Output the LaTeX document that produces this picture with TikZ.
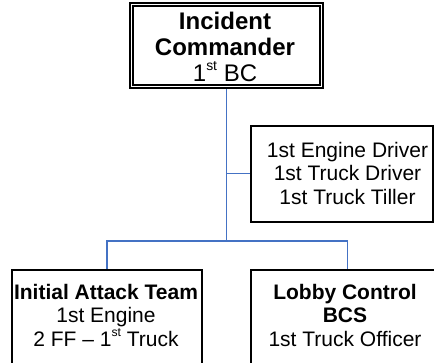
\documentclass[tikz,border=0pt]{standalone}
\usepackage{fontspec}
\setmainfont{Liberation Sans}
\definecolor{connblue}{RGB}{68,114,196}
\newcommand{\supst}[1]{\raisebox{0.45em}{\fontsize{0.58em}{0.6em}\selectfont #1}}
\tikzset{
  x=1pt, y=-1pt,
  box/.style={draw=black, line width=1.6pt, inner sep=0pt, align=center,
    font=\fontsize{21}{23}\selectfont, fill=white},
  boxtext/.style={inner sep=0pt, align=center, font=\fontsize{21}{23.5}\selectfont},
  conn/.style={draw=connblue, line width=1.5pt}
}
\begin{document}
\begin{tikzpicture}
\useasboundingbox (0,0) rectangle (434,362);
\clip (0,0) rectangle (434,362);
% top box
\node[box, line width=2pt, minimum width=193pt, minimum height=85pt] (ic) at (226.5,45.5) {};
\draw[line width=1.2pt] ([shift={(4,4)}]ic.north west) rectangle ([shift={(-4,-4)}]ic.south east);
\node[boxtext, font=\fontsize{24}{26}\selectfont] (ict) at (225,47)
  {\textbf{Incident}\\\textbf{Commander}\\1\supst{st} BC};
% side box
\node[box, minimum width=182pt, minimum height=96pt] (eng) at (342,173.7) {};
\node[boxtext] (engt) at (347.5,173)
  {1st Engine Driver\\1st Truck Driver\\1st Truck Tiller};
% bottom boxes
\node[box, minimum width=190pt, minimum height=96pt] (iat) at (107,318) {};
\node[boxtext] (iatt) at (106,315)
  {\textbf{Initial Attack Team}\\1st Engine\\2 FF -- 1\supst{st} Truck};
\node[box, minimum width=193pt, minimum height=96pt] (lc) at (347.5,318) {};
\node[boxtext] (lct) at (345,315)
  {\textbf{Lobby Control}\\\textbf{BCS}\\1st Truck Officer};
% connectors
\coordinate (j) at (ic.south |- 0,241);
\coordinate (k) at (ic.south |- eng.west);
\draw[conn] (ic.south) -- (j);
\draw[conn] (k) -- (eng.west);
\draw[conn] (j) -| (iat.north);
\draw[conn] (j) -| (lc.north);
\end{tikzpicture}
\end{document}
